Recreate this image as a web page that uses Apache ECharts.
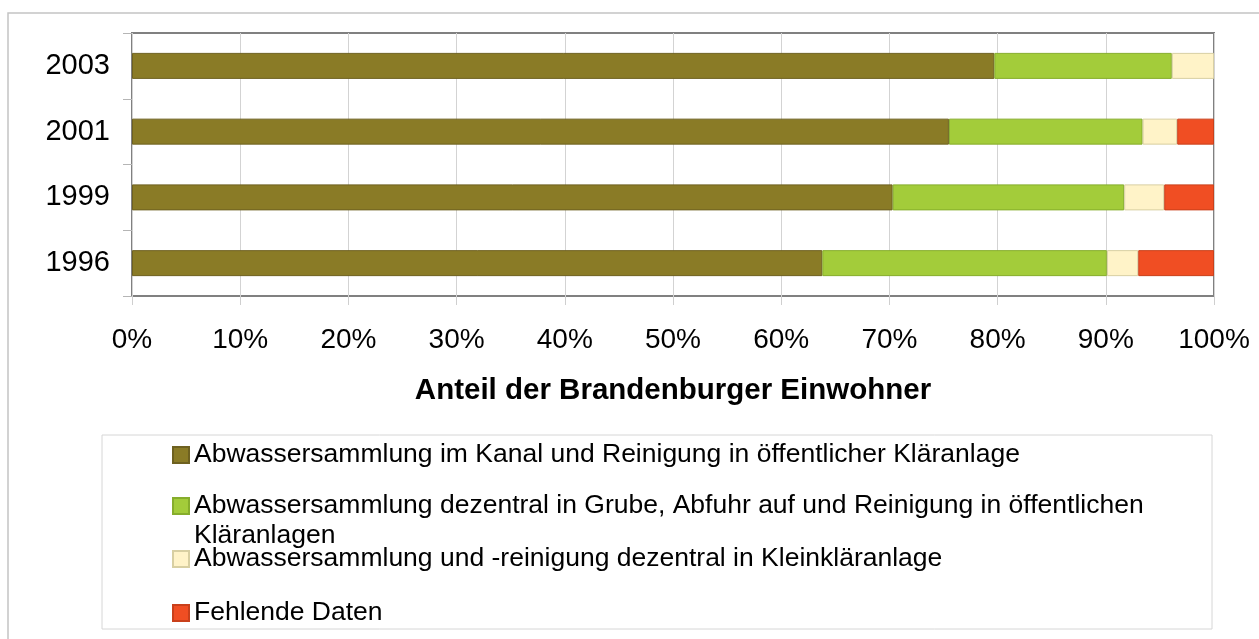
<!DOCTYPE html>
<html>
<head>
<meta charset="utf-8">
<script src="https://cdn.jsdelivr.net/npm/echarts@6/dist/echarts.min.js"></script>
<style>
  html, body { margin: 0; padding: 0; background: #fff; }
  #chart { width: 1259px; height: 639px; }
</style>
</head>
<body>
<div id="chart"></div>
<script>
// years, bottom to top
const years = ['1996', '1999', '2001', '2003'];

// shares in percent per year
const kanal = [63.8, 70.3, 75.5, 79.7];
const grube = [26.3, 21.4, 17.9, 16.4];
const klein = [2.9, 3.7, 3.2, 3.9];
const fehlend = [7.0, 4.6, 3.4, 0];

const names = [
    'Abwassersammlung im Kanal und Reinigung in öffentlicher Kläranlage',
    'Abwassersammlung dezentral in Grube, Abfuhr auf und Reinigung in öffentlichen Kläranlagen',
    'Abwassersammlung und -reinigung dezentral in Kleinkläranlage',
    'Fehlende Daten'
];
const colors = ['#8a7b26', '#a3cc3a', '#fff3c8', '#f04e23'];
const borders = ['#6e6120', '#86ad2c', '#d8cfa2', '#c9401b'];

const font = '"Liberation Sans", Arial, sans-serif';

const chart = echarts.init(document.getElementById('chart'));

function bar(i, values) {
    return {
        name: names[i],
        type: 'bar',
        stack: 'total',
        barWidth: 26,
        // a zero share draws nothing
        data: values.map(v => (v === 0 ? null : v)),
        itemStyle: { color: colors[i], borderColor: borders[i], borderWidth: 1 }
    };
}

// one legend per entry so the rows keep the reference spacing
const legendTops = [440, 461, 544, 598];
const legends = names.map((n, i) => ({
    data: [n],
    left: 172,
    top: legendTops[i],
    padding: 0,
    orient: 'vertical',
    icon: 'rect',
    itemWidth: 16,
    itemHeight: 16,
    selectedMode: false,
    // the wrapped entry keeps its first line level with the icon
    formatter: i === 1 ? (name) => ' \n' + name : '{name}',
    textStyle: i === 1
        ? { fontFamily: font, fontSize: 26.5, color: '#000', lineHeight: 30, width: 1000, overflow: 'break' }
        : { fontFamily: font, fontSize: 26.5, color: '#000', lineHeight: 30 }
}));

chart.setOption({
    animation: false,
    backgroundColor: '#fff',
    graphic: [
        { type: 'rect', shape: { x: 8, y: 13, width: 1270, height: 660 }, style: { fill: 'none', stroke: '#c4c4c4', lineWidth: 1.5 }, silent: true },
        { type: 'rect', shape: { x: 102, y: 435, width: 1110, height: 194 }, style: { fill: 'none', stroke: '#d6d6d6', lineWidth: 1 }, silent: true }
    ],
    legend: legends,
    grid: {
        left: 132, right: 45, top: 33, bottom: 343,
        show: true, borderColor: '#808080', borderWidth: 2, backgroundColor: 'transparent'
    },
    xAxis: {
        type: 'value',
        min: 0, max: 100, interval: 10,
        name: 'Anteil der Brandenburger Einwohner',
        nameLocation: 'middle',
        nameGap: 80,
        nameTextStyle: { fontFamily: font, fontSize: 29.5, fontWeight: 'bold', color: '#000' },
        axisLine: { show: false },
        axisTick: { show: true, length: 9, lineStyle: { color: '#cfcfcf' } },
        splitLine: { show: true, lineStyle: { color: '#d3d3d3', width: 1 } },
        axisLabel: { formatter: '{value}%', fontFamily: font, fontSize: 28, color: '#000', margin: 30 }
    },
    yAxis: {
        type: 'category',
        data: years,
        axisLine: { show: false },
        axisTick: { show: true, length: 9, lineStyle: { color: '#b5b5b5' } },
        axisLabel: { fontFamily: font, fontSize: 29, color: '#000', margin: 22 }
    },
    series: [bar(0, kanal), bar(1, grube), bar(2, klein), bar(3, fehlend)]
});
</script>
</body>
</html>
